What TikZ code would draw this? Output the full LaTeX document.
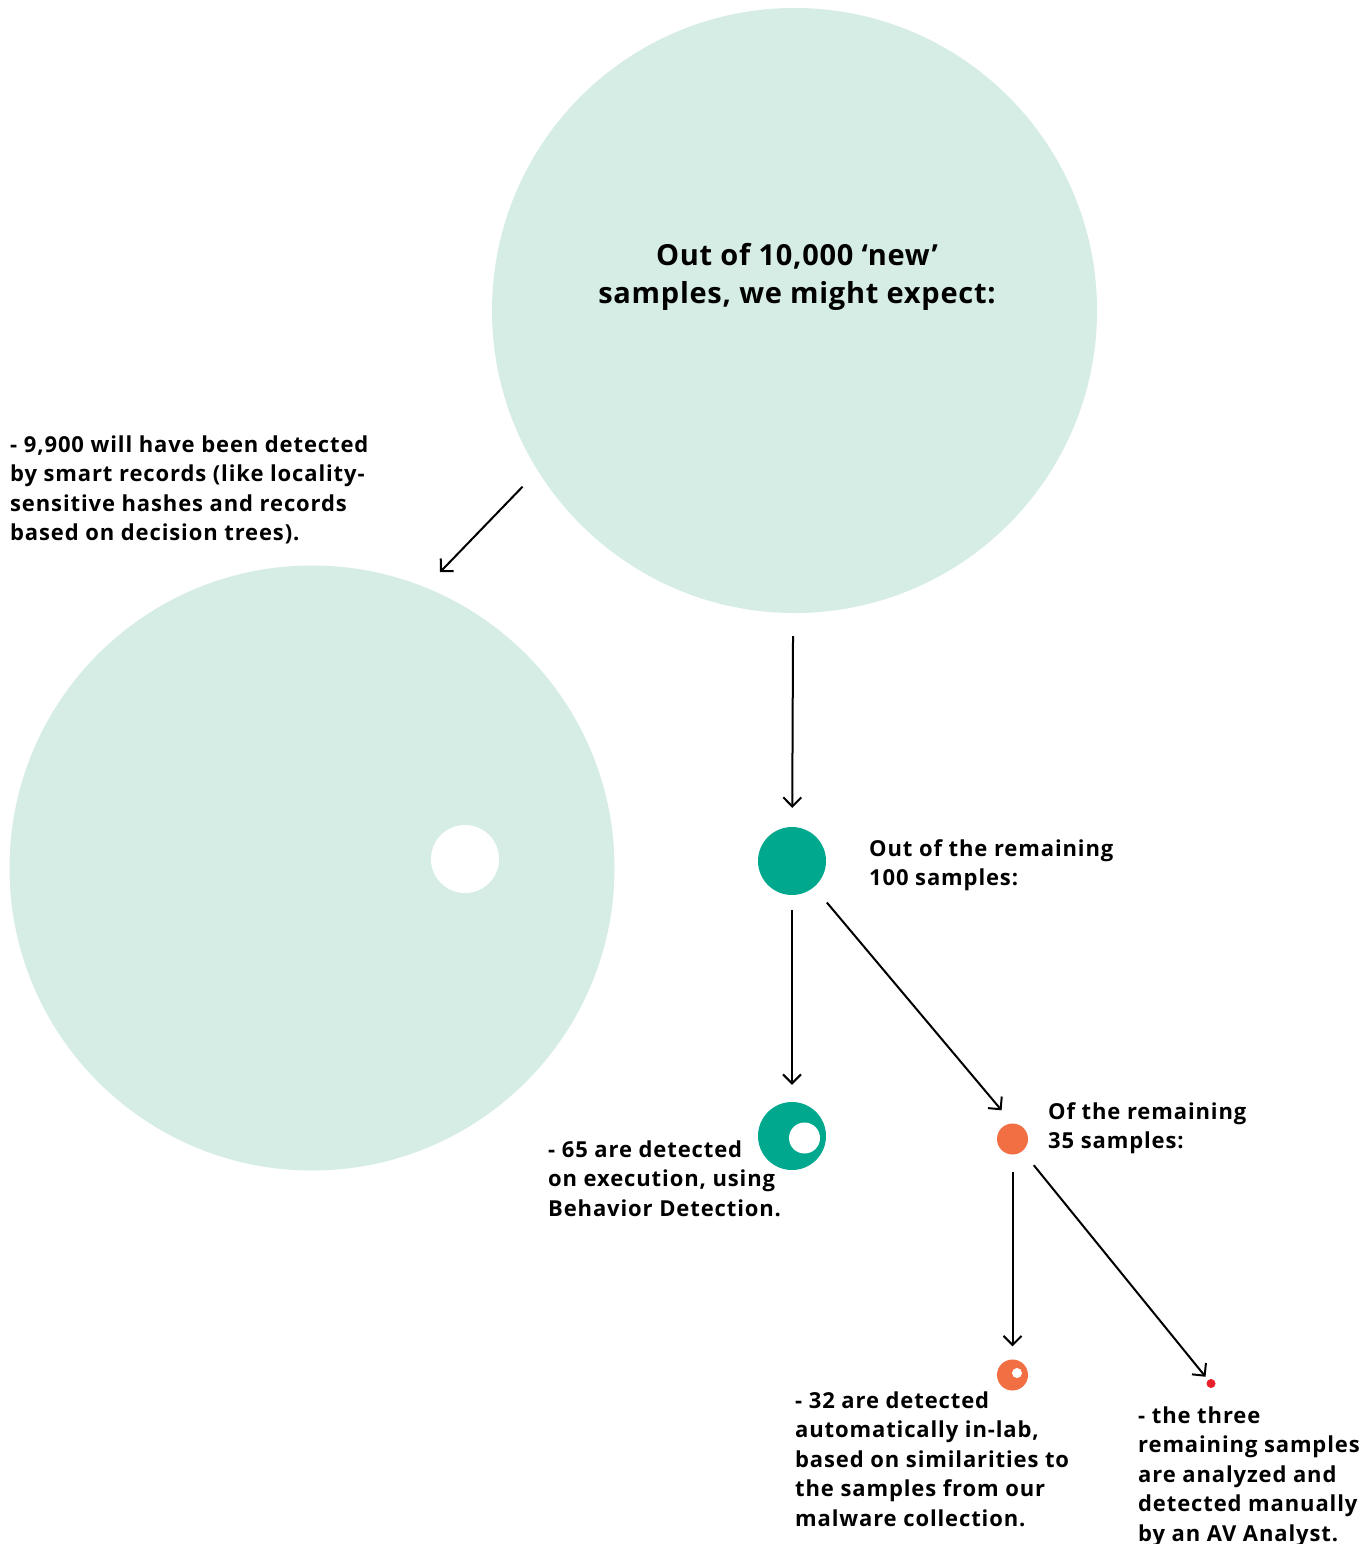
\documentclass[tikz,border=0pt]{standalone}
\usepackage{fontspec}
\setmainfont{Open Sans}
\newfontfamily\smallfam{Open Sans}[LetterSpace=4]
\newfontfamily\bigfam{Open Sans}[LetterSpace=2.5]
\usetikzlibrary{arrows.meta}
\definecolor{mint}{HTML}{D6EDE6}
\definecolor{kgreen}{HTML}{00A88E}
\definecolor{korange}{HTML}{F26E43}
\definecolor{kred}{HTML}{E8202A}
\begin{document}
\begin{tikzpicture}[x=1pt,y=-1pt,
  disc/.style={circle,inner sep=0pt,draw=none},
  arr/.style={draw=black,line width=2pt,-{Straight Barb[length=9pt,width=18pt,line width=2pt]}},
  txt/.style={anchor=base west,inner sep=0pt,align=left,font=\smallfam\fontsize{22}{29.5}\bfseries\selectfont},
  big/.style={anchor=base,inner sep=0pt,align=center,font=\bigfam\fontsize{29}{38}\bfseries\selectfont}]
\useasboundingbox[fill=white] (0,0) rectangle (1371,1544);
% circles
\node[disc,fill=mint,minimum size=605pt] (c1) at (794.5,310.5) {};
\node[disc,fill=mint,minimum size=605pt] (c2) at (312,868) {};
\node[disc,fill=white,minimum size=68pt] (h1) at (465,859) {};
\node[disc,fill=kgreen,minimum size=68pt] (g1) at (792,861) {};
\node[disc,fill=kgreen,minimum size=68pt] (g2) at (792,1136) {};
\node[disc,fill=white,minimum size=31pt] (h2) at (804.5,1138) {};
\node[disc,fill=korange,minimum size=31pt] (o1) at (1012.5,1139) {};
\node[disc,fill=korange,minimum size=31pt] (o2) at (1012.5,1375) {};
\node[disc,fill=white,minimum size=10pt] (h3) at (1017,1373) {};
\node[disc,fill=kred,minimum size=9pt] (r1) at (1211,1383.5) {};
% texts (anchor = baseline of the last line)
\node[big] (tbig) at (797,303) {Out of 10,000 ‘new’\\samples, we might expect:};
\node[txt] (t1) at (10,540.5) {- 9,900 will have been detected\\by smart records (like locality-\\sensitive hashes and records\\based on decision trees).};
\node[txt] (t2) at (869,885.5) {Out of the remaining\\100 samples:};
\node[txt] (t3) at (548,1216) {- 65 are detected\\on execution, using\\Behavior Detection.};
\node[txt] (t4) at (1048,1148.5) {Of the remaining\\35 samples:};
\node[txt] (t5) at (795,1526) {- 32 are detected\\automatically in-lab,\\based on similarities to\\the samples from our\\malware collection.};
\node[txt] (t6) at (1138,1541) {- the three\\remaining samples\\are analyzed and\\detected manually\\by an AV Analyst.};
% arrows
\draw[arr,shorten <=22pt,shorten >=21pt] (c1.212.3) -- (c2.68.5);
\draw[arr,shorten <=23pt,shorten >=19pt] (c1) -- (g1);
\draw[arr,shorten <=15pt,shorten >=17pt] (g1) -- (g2);
\draw[arr,shorten <=20pt,shorten >=17pt] (g1.-50) -- (o1.north);
\draw[arr,shorten <=17pt,shorten >=13pt] (o1) -- (o2);
\draw[arr,shorten <=18pt,shorten >=4pt] (o1) -- (r1);
\end{tikzpicture}
\end{document}
